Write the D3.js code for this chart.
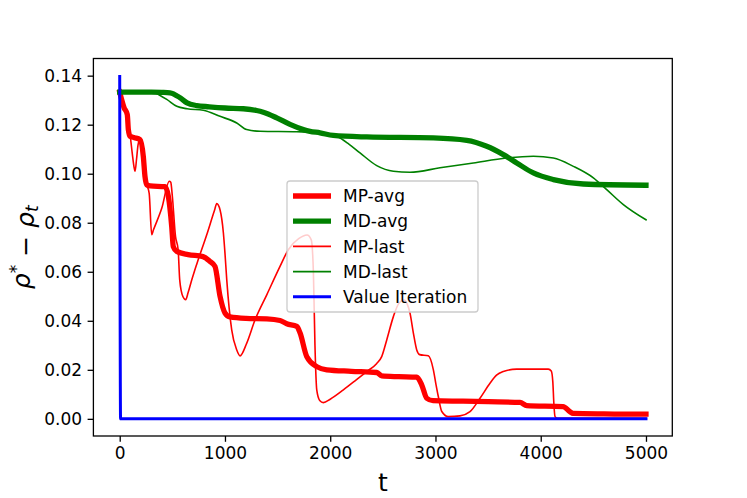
<!DOCTYPE html>
<html>
<head>
<meta charset="utf-8">
<script src="https://cdn.jsdelivr.net/npm/d3@7"></script>
<style>
    body { margin: 0; background: #fff; }
    svg { display: block; font-family: 'DejaVu Sans', sans-serif; }
</style>
</head>
<body>
<script>

// DATA (t, rho* - rho_t)

const mpAvgT = [0, 20, 41, 72, 82, 98, 140, 193, 224, 240, 257, 290, 430, 462, 494, 509, 542, 650, 791,
    858, 905, 953, 1000, 1048, 1200, 1397, 1523, 1587, 1682, 1713, 1777, 1872, 1967, 2200, 2442, 2489,
    2650, 2822, 2869, 2917, 2977, 3262, 3500, 3803, 3867, 4212, 4278, 4307, 4600, 5000];
const mpAvgY = [0.1333, 0.1300, 0.1270, 0.1241, 0.1180, 0.1153, 0.1147, 0.1139, 0.1071, 0.0989, 0.0955,
    0.0950, 0.0947, 0.0908, 0.0785, 0.0703, 0.0683, 0.0670, 0.0662, 0.0642, 0.0622, 0.0500, 0.0432,
    0.0416, 0.0410, 0.0408, 0.0401, 0.0388, 0.0377, 0.0351, 0.0254, 0.0213, 0.0200, 0.0194, 0.0189,
    0.0175, 0.0172, 0.0170, 0.0139, 0.0084, 0.0074, 0.0072, 0.0070, 0.0067, 0.0054, 0.0050, 0.0029,
    0.0022, 0.0020, 0.0019];

const mdAvgT = [0, 300, 400, 478, 573, 640, 731, 850, 1000, 1174, 1300, 1364, 1492, 1618, 1745, 1808,
    1903, 2029, 2347, 2980, 3297, 3487, 3645, 3772, 3930, 4120, 4405, 5000];
const mdAvgY = [0.1333, 0.1333, 0.1332, 0.1330, 0.1310, 0.1289, 0.1278, 0.1273, 0.1268, 0.1265, 0.1258,
    0.1251, 0.1228, 0.1201, 0.1180, 0.1173, 0.1167, 0.1156, 0.1150, 0.1146, 0.1136, 0.1112, 0.1078,
    0.1044, 0.1003, 0.0976, 0.0958, 0.0953];

const mpLastT = [0, 20, 41, 72, 82, 100, 120, 135, 146, 160, 175, 193, 224, 240, 257, 280, 304, 320, 400,
    471, 485, 500, 530, 555, 570, 600, 627, 650, 680, 731, 826, 900, 922, 953, 985, 1000, 1017, 1064,
    1112, 1143, 1207, 1286, 1397, 1523, 1602, 1700, 1780, 1820, 1840, 1855, 1872, 1900, 1935, 2000,
    2125, 2250, 2347, 2440, 2489, 2537, 2600, 2650, 2700, 2730, 2758, 2790, 2822, 2850, 2932, 2980,
    3005, 3027, 3060, 3122, 3233, 3328, 3423, 3518, 3580, 3645, 3772, 4072, 4100, 4115, 4125, 4136,
    4160, 5000];
const mpLastY = [0.1333, 0.1300, 0.1270, 0.1241, 0.1200, 0.1153, 0.1080, 0.1030, 0.1010, 0.1060, 0.1120,
    0.1140, 0.1080, 0.0990, 0.0955, 0.0920, 0.0751, 0.0770, 0.0860, 0.0969, 0.0965, 0.0908, 0.0744,
    0.0690, 0.0567, 0.0499, 0.0486, 0.0515, 0.0560, 0.0630, 0.0750, 0.0850, 0.0878, 0.0853, 0.0758,
    0.0676, 0.0567, 0.0363, 0.0281, 0.0257, 0.0309, 0.0404, 0.0506, 0.0622, 0.0690, 0.0735, 0.0750,
    0.0730, 0.0600, 0.0300, 0.0118, 0.0075, 0.0066, 0.0080, 0.0118, 0.0160, 0.0193, 0.0225, 0.0254,
    0.0322, 0.0417, 0.0470, 0.0485, 0.0470, 0.0431, 0.0350, 0.0281, 0.0262, 0.0257, 0.0200, 0.0140,
    0.0091, 0.0030, 0.0009, 0.0012, 0.0029, 0.0084, 0.0145, 0.0178, 0.0193, 0.0203, 0.0203, 0.0195,
    0.0150, 0.0060, 0.0009, 0.0002, 0.0002];

const mdLastT = [0, 319, 380, 447, 542, 640, 794, 953, 1112, 1206, 1333, 1682, 1900, 2062, 2180, 2283,
    2442, 2600, 2758, 3043, 3360, 3677, 3930, 4120, 4310, 4500, 4627, 4785, 5000];
const mdLastY = [0.1333, 0.1333, 0.1320, 0.1303, 0.1275, 0.1265, 0.1259, 0.1234, 0.1207, 0.1180, 0.1173,
    0.1171, 0.1168, 0.1153, 0.1120, 0.1085, 0.1033, 0.1010, 0.1006, 0.1024, 0.1044, 0.1064, 0.1071,
    0.1064, 0.1030, 0.0983, 0.0935, 0.0874, 0.0812];

const viT = [0, 8, 5000];
const viY = [0.1397, 0, 0];

const seriesNames = ['MP-avg', 'MD-avg', 'MP-last', 'MD-last', 'Value Iteration'];
const xTicks = [0, 1000, 2000, 3000, 4000, 5000];
const yTicks = [0, 0.02, 0.04, 0.06, 0.08, 0.10, 0.12, 0.14];


// LAYOUT

const chartWidth = 747,
    chartHeight = 498,
    plotLeft = 93.4,
    plotRight = 672.3,
    plotTop = 58.5,
    plotBottom = 436;

const series = [
    {name: seriesNames[0], t: mpAvgT, y: mpAvgY, color: '#ff0000', lw: 5.3},
    {name: seriesNames[1], t: mdAvgT, y: mdAvgY, color: '#008000', lw: 5.3},
    {name: seriesNames[2], t: mpLastT, y: mpLastY, color: '#ff0000', lw: 1.6},
    {name: seriesNames[3], t: mdLastT, y: mdLastY, color: '#008000', lw: 1.6},
    {name: seriesNames[4], t: viT, y: viY, color: '#0000ff', lw: 3}
];

const svg = d3
    .select('body')
    .append('svg')
    .attr('width', chartWidth)
    .attr('height', chartHeight);

// matplotlib style 5% margins
const xScale = d3.scaleLinear()
    .domain([-250, 5250])
    .range([plotLeft, plotRight]);

const yScale = d3.scaleLinear()
    .domain([-0.007, 0.147])
    .range([plotBottom, plotTop]);


// LINES

const line = d3.line()
    .x(function(d){ return xScale(d[0]); })
    .y(function(d){ return yScale(d[1]); })
    .curve(d3.curveMonotoneX);

svg.append('clipPath')
    .attr('id', 'plotClip')
    .append('rect')
    .attr('x', plotLeft)
    .attr('y', plotTop)
    .attr('width', plotRight - plotLeft)
    .attr('height', plotBottom - plotTop);

const lines = svg
    .append('g')
    .attr('clip-path', 'url(#plotClip)')
    .selectAll('.series')
    .data(series)
    .enter()
    .append('path')
    .attr('class', 'series')
    .attr('fill', 'none')
    .attr('stroke', function(d){ return d.color; })
    .attr('stroke-width', function(d){ return d.lw; })
    .attr('stroke-linecap', 'square')
    .attr('stroke-linejoin', 'round')
    .attr('d', function(d){
        return line(d.t.map(function(t, i){ return [t, d.y[i]]; }));
    });


// AXES

const xAxis = d3.axisBottom(xScale)
    .tickValues(xTicks)
    .tickSize(5.8)
    .tickPadding(5.5)
    .tickFormat(d3.format('d'));

const yAxis = d3.axisLeft(yScale)
    .tickValues(yTicks)
    .tickSize(5.8)
    .tickPadding(5.5)
    .tickFormat(d3.format('.2f'));

const gx = svg
    .append('g')
    .attr('transform', 'translate(0,' + plotBottom + ')')
    .call(xAxis);

const gy = svg
    .append('g')
    .attr('transform', 'translate(' + plotLeft + ',0)')
    .call(yAxis);

[gx, gy].forEach(function(g){
    g.select('.domain').remove();
    g.selectAll('line').attr('stroke', '#000').attr('stroke-width', 1.3);
    g.selectAll('text')
        .attr('fill', '#000')
        .style('font-family', "'DejaVu Sans', sans-serif")
        .style('font-size', '17px');
});

const frame = svg
    .append('rect')
    .attr('x', plotLeft)
    .attr('y', plotTop)
    .attr('width', plotRight - plotLeft)
    .attr('height', plotBottom - plotTop)
    .attr('fill', 'none')
    .attr('stroke', '#000')
    .attr('stroke-width', 1.3);

const xLabel = svg
    .append('text')
    .attr('x', (plotLeft + plotRight) / 2)
    .attr('y', 491)
    .attr('text-anchor', 'middle')
    .style('font-size', '25px')
    .text('t');

const yLabel = svg
    .append('text')
    .attr('transform', 'translate(30,' + (plotTop + plotBottom) / 2 + ') rotate(-90)')
    .attr('text-anchor', 'middle')
    .style('font-size', '25px');

yLabel.append('tspan').style('font-style', 'italic').text('ρ');
yLabel.append('tspan').attr('dy', '-0.45em').style('font-size', '17px').text('*');
yLabel.append('tspan').attr('dy', '0.45em').text(' − ');
yLabel.append('tspan').style('font-style', 'italic').text('ρ');
yLabel.append('tspan').attr('dy', '0.25em').style('font-size', '17px').style('font-style', 'italic').text('t');


// LEGEND

const legend = svg
    .append('g')
    .attr('class', 'legend');

legend.append('rect')
    .attr('x', 287)
    .attr('y', 181)
    .attr('width', 191)
    .attr('height', 131)
    .attr('rx', 3)
    .attr('fill', '#fff')
    .attr('fill-opacity', 0.8)
    .attr('stroke', '#cccccc')
    .attr('stroke-width', 1.3);

const rows = legend
    .selectAll('.row')
    .data(series)
    .enter()
    .append('g')
    .attr('class', 'row')
    .attr('transform', function(d, i){
        return 'translate(0,' + (196 + i * 25.2) + ')';
    });

rows.append('line')
    .attr('x1', 293)
    .attr('x2', 331)
    .attr('stroke', function(d){ return d.color; })
    .attr('stroke-width', function(d){ return d.lw; });

rows.append('text')
    .attr('x', 343)
    .attr('dy', '0.36em')
    .style('font-size', '17px')
    .text(function(d){ return d.name; });

</script>
</body>
</html>
